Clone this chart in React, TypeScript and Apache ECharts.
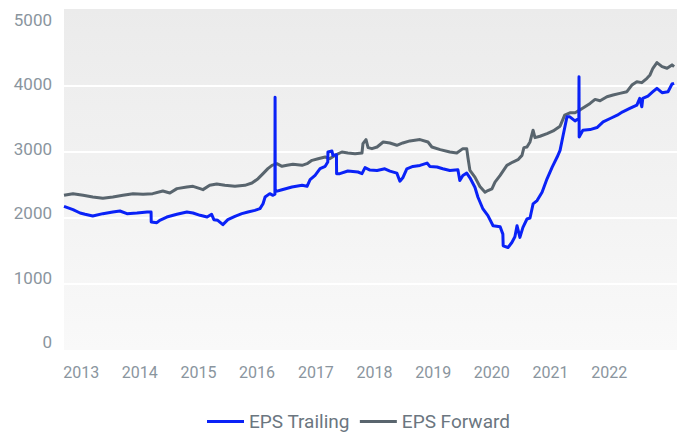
import React, { useEffect, useRef } from "react";
import * as echarts from "echarts";

const yearLabels = [2013, 2014, 2015, 2016, 2017, 2018, 2019, 2020, 2021, 2022];
const yTickLabels = [0, 1000, 2000, 3000, 4000, 5000];

const trailingDates = [
  "2012-09-16", "2012-11-11", "2012-12-25", "2013-01-25", "2013-03-14", "2013-05-16", "2013-07-17", "2013-08-30",
  "2013-10-13", "2013-12-14", "2014-02-16", "2014-03-12", "2014-03-13", "2014-04-17", "2014-05-05", "2014-06-18",
  "2014-08-20", "2014-10-21", "2014-11-28", "2015-01-11", "2015-02-24", "2015-03-24", "2015-04-07", "2015-05-01",
  "2015-06-02", "2015-07-03", "2015-08-16", "2015-09-28", "2015-11-05", "2015-12-18", "2016-01-19", "2016-02-07",
  "2016-02-20", "2016-03-20", "2016-04-09", "2016-04-21", "2016-04-22", "2016-04-23", "2016-06-04", "2016-08-05",
  "2016-10-07", "2016-11-07", "2016-11-26", "2016-12-27", "2017-01-27", "2017-02-28", "2017-03-16", "2017-03-17",
  "2017-04-11", "2017-04-17", "2017-05-09", "2017-05-10", "2017-05-30", "2017-07-19", "2017-09-20", "2017-10-15",
  "2017-11-03", "2017-12-04", "2018-01-17", "2018-03-06", "2018-04-07", "2018-05-20", "2018-06-08", "2018-06-26",
  "2018-07-21", "2018-08-28", "2018-10-11", "2018-11-24", "2018-12-12", "2019-01-25", "2019-03-02", "2019-04-15",
  "2019-06-04", "2019-06-16", "2019-07-05", "2019-07-29", "2019-08-18", "2019-09-18", "2019-10-07", "2019-11-07",
  "2019-12-08", "2020-01-09", "2020-02-22", "2020-03-10", "2020-03-12", "2020-04-11", "2020-05-05", "2020-05-24",
  "2020-06-06", "2020-06-24", "2020-07-13", "2020-08-07", "2020-08-26", "2020-09-14", "2020-10-09", "2020-11-09",
  "2020-12-10", "2021-01-11", "2021-02-11", "2021-03-01", "2021-03-18", "2021-04-13", "2021-05-01", "2021-06-02",
  "2021-06-26", "2021-06-27", "2021-06-28", "2021-07-21", "2021-09-04", "2021-10-17", "2021-11-24", "2022-01-07",
  "2022-02-20", "2022-03-26", "2022-05-09", "2022-06-22", "2022-07-10", "2022-07-23", "2022-07-29", "2022-08-30",
  "2022-09-30", "2022-10-25", "2022-11-26", "2023-01-02", "2023-01-27", "2023-02-09",
];
const trailingValues = [
  2175, 2126, 2076, 2056, 2030, 2066, 2091, 2106,
  2066, 2076, 2091, 2091, 1940, 1929, 1965, 2015,
  2056, 2091, 2076, 2041, 2015, 2056, 1975, 1965,
  1900, 1975, 2025, 2066, 2091, 2116, 2142, 2217,
  2318, 2369, 2344, 2360, 3830, 2400, 2429, 2470,
  2495, 2480, 2581, 2647, 2748, 2783, 2849, 3000,
  3015, 2949, 2959, 2672, 2672, 2712, 2697, 2672,
  2763, 2727, 2721, 2746, 2711, 2680, 2558, 2609,
  2746, 2782, 2797, 2832, 2782, 2772, 2746, 2721,
  2731, 2569, 2645, 2680, 2609, 2467, 2315, 2137,
  2036, 1883, 1868, 1756, 1579, 1553, 1629, 1716,
  1883, 1706, 1858, 1985, 2000, 2213, 2264, 2391,
  2594, 2772, 2924, 3025, 3228, 3533, 3533, 3472,
  3508, 4140, 3228, 3330, 3340, 3371, 3457, 3508,
  3558, 3609, 3660, 3711, 3812, 3685, 3812, 3848,
  3914, 3965, 3899, 3914, 4030, 4041,
];

const forwardDates = [
  "2012-09-16", "2012-11-11", "2013-01-13", "2013-03-14", "2013-05-16", "2013-07-17", "2013-09-18", "2013-11-20",
  "2014-01-21", "2014-03-22", "2014-05-24", "2014-07-07", "2014-08-20", "2014-10-21", "2014-11-28", "2015-01-11",
  "2015-01-29", "2015-03-12", "2015-04-25", "2015-06-14", "2015-08-16", "2015-10-17", "2015-11-30", "2016-01-07",
  "2016-02-07", "2016-03-08", "2016-04-03", "2016-05-03", "2016-06-04", "2016-07-05", "2016-08-11", "2016-10-07",
  "2016-11-07", "2016-12-08", "2017-01-15", "2017-02-28", "2017-03-28", "2017-04-29", "2017-06-12", "2017-07-19",
  "2017-09-02", "2017-10-15", "2017-10-21", "2017-11-09", "2017-11-22", "2017-12-16", "2018-01-17", "2018-02-24",
  "2018-04-07", "2018-05-20", "2018-06-26", "2018-08-09", "2018-10-11", "2018-11-30", "2018-12-24", "2019-02-14",
  "2019-04-15", "2019-05-28", "2019-07-05", "2019-07-29", "2019-08-05", "2019-08-18", "2019-09-18", "2019-10-19",
  "2019-11-20", "2019-12-08", "2020-01-02", "2020-01-21", "2020-02-22", "2020-04-04", "2020-05-11", "2020-06-12",
  "2020-07-07", "2020-07-19", "2020-08-07", "2020-08-26", "2020-09-14", "2020-09-26", "2020-10-27", "2020-12-10",
  "2021-01-17", "2021-03-01", "2021-03-30", "2021-05-01", "2021-06-02", "2021-07-02", "2021-08-03", "2021-09-04",
  "2021-10-05", "2021-11-05", "2021-12-18", "2022-01-25", "2022-03-08", "2022-04-21", "2022-05-22", "2022-06-22",
  "2022-07-23", "2022-08-24", "2022-09-12", "2022-09-30", "2022-10-25", "2022-11-26", "2022-12-27", "2023-01-27",
  "2023-02-09",
];
const forwardValues = [
  2344, 2369, 2344, 2318, 2298, 2318, 2344, 2369,
  2359, 2369, 2409, 2379, 2445, 2470, 2480, 2445,
  2430, 2495, 2515, 2495, 2480, 2495, 2530, 2596,
  2672, 2748, 2798, 2823, 2783, 2798, 2813, 2798,
  2823, 2874, 2899, 2924, 2899, 2949, 3000, 2985,
  2975, 2985, 3126, 3187, 3066, 3051, 3076, 3152,
  3137, 3102, 3137, 3168, 3188, 3152, 3076, 3036,
  3000, 2985, 3051, 3051, 2924, 2721, 2619, 2477,
  2391, 2416, 2442, 2543, 2645, 2797, 2848, 2883,
  2949, 3066, 3076, 3152, 3330, 3218, 3239, 3279,
  3320, 3391, 3558, 3594, 3594, 3635, 3685, 3736,
  3797, 3777, 3838, 3863, 3888, 3914, 4015, 4066,
  4051, 4117, 4168, 4269, 4355, 4294, 4269, 4320,
  4294,
];

const FONT = "Roboto, 'Noto Sans', sans-serif";

function toTime(d: string): number {
  const [y, m, day] = d.split("-").map(Number);
  return Date.UTC(y, m - 1, day);
}

export default function App() {
  const ref = useRef<HTMLDivElement>(null);

  useEffect(() => {
    if (!ref.current) return;
    const chart = echarts.init(ref.current, null, { renderer: "svg" });
    const trailing = trailingDates.map((d, i) => [toTime(d), trailingValues[i]]);
    const forward = forwardDates.map((d, i) => [toTime(d), forwardValues[i]]);

    chart.setOption({
      animation: false,
      backgroundColor: "#ffffff",
      textStyle: { fontFamily: FONT },
      grid: {
        left: 64,
        right: 5,
        top: 9,
        bottom: 84,
        containLabel: false,
        show: true,
        borderWidth: 0,
        backgroundColor: new echarts.graphic.LinearGradient(0, 0, 0, 1, [
          { offset: 0, color: "#ebebeb" },
          { offset: 1, color: "#f9f9f9" },
        ]),
      },
      legend: {
        data: ["EPS Trailing", "EPS Forward"],
        left: 207,
        top: 412,
        padding: 0,
        icon: "rect",
        itemWidth: 37,
        itemHeight: 3,
        itemGap: 10,
        textStyle: { fontFamily: FONT, fontSize: 19, color: "#6b7680" },
      },
      xAxis: {
        type: "value",
        min: Date.UTC(2012, 8, 16),
        max: Date.UTC(2023, 1, 27),
        axisLine: { show: false },
        axisTick: { show: false },
        splitLine: { show: false },
        axisLabel: {
          customValues: yearLabels.map((y) => Date.UTC(y, 0, 1)),
          formatter: (v: number) => String(new Date(v).getUTCFullYear()),
          color: "#8a959e",
          fontSize: 16,
          fontFamily: FONT,
          margin: 14,
        },
      },
      yAxis: [
        {
          type: "value",
          position: "left",
          min: 0,
          max: 5167,
          interval: 1000,
          axisLine: { show: false },
          axisTick: { show: false },
          axisLabel: { show: false },
          splitLine: {
            show: true,
            lineStyle: {
              width: 2,
              color: ["rgba(255,255,255,0)", "#ffffff", "#ffffff", "#ffffff", "#ffffff", "rgba(255,255,255,0)", "rgba(255,255,255,0)"],
            },
          },
        },
        {
          type: "value",
          position: "left",
          min: -124,
          max: 5171,
          axisLine: { show: false },
          axisTick: { show: false },
          splitLine: { show: false },
          axisLabel: {
            customValues: yTickLabels,
            formatter: (v: number) => String(v),
            color: "#8a959e",
            fontSize: 17,
            fontFamily: FONT,
            margin: 12,
          },
        },
      ],
      series: [
        {
          name: "EPS Forward",
          type: "line",
          data: forward,
          yAxisIndex: 0,
          showSymbol: false,
          symbol: "none",
          z: 2,
          lineStyle: { color: "#59656e", width: 3, join: "round" },
          itemStyle: { color: "#59656e" },
        },
        {
          name: "EPS Trailing",
          type: "line",
          data: trailing,
          yAxisIndex: 0,
          showSymbol: false,
          symbol: "none",
          z: 3,
          lineStyle: { color: "#0a22f7", width: 3, join: "round" },
          itemStyle: { color: "#0a22f7" },
        },
      ],
    });
    return () => chart.dispose();
  }, []);

  return (
    <div
      ref={ref}
      style={{ position: "fixed", left: 0, top: 0, width: 682, height: 434 }}
    />
  );
}
